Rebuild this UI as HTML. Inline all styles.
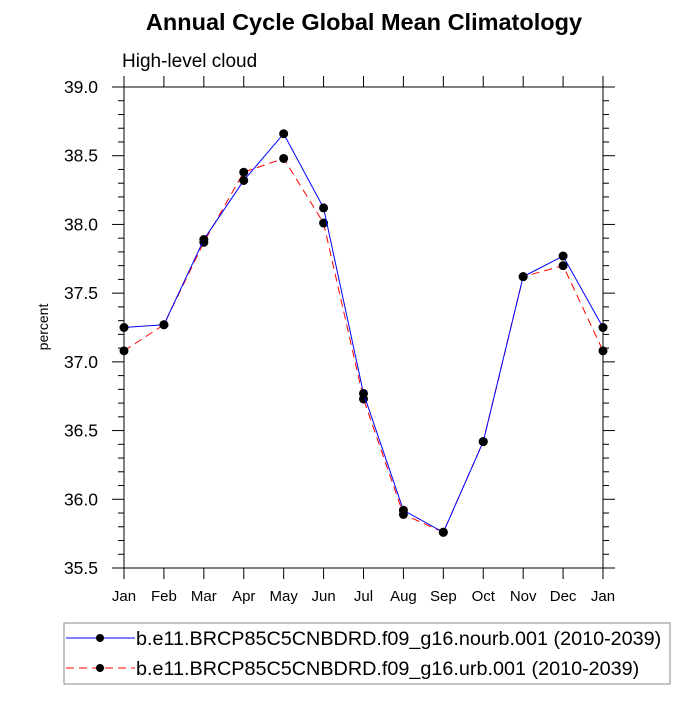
<!DOCTYPE html>
<html><head><meta charset="utf-8"><style>
body{margin:0;background:#fff;font-family:"Liberation Sans",sans-serif}
</style></head><body>
<svg id="chart" width="700" height="700" xmlns="http://www.w3.org/2000/svg">
<text x="364" y="30" text-anchor="middle" font-size="23.5" font-weight="bold" font-family="Liberation Sans">Annual Cycle Global Mean Climatology</text>
<text x="122" y="67" font-size="19" font-family="Liberation Sans">High-level cloud</text>
<text transform="translate(48,327) rotate(-90)" text-anchor="middle" font-size="14" font-family="Liberation Sans">percent</text>
<rect x="124" y="87" width="479" height="481" fill="none" stroke="#000" stroke-width="1"/>
<g id="axes"></g>
<g id="series"></g>
<g>
<rect x="64" y="623" width="606" height="61" fill="none" stroke="#888" stroke-width="1"/>
<g>
<line x1="66" y1="638" x2="135" y2="638" stroke="#00f" stroke-width="1"/>
<circle cx="100" cy="638" r="4" fill="#000"/>
<text x="136" y="645" font-size="19.8" font-family="Liberation Sans">b.e11.BRCP85C5CNBDRD.f09_g16.nourb.001 (2010-2039)</text>
</g>
<g>
<line x1="66" y1="668" x2="135" y2="668" stroke="#f00" stroke-width="1" stroke-dasharray="8,5"/>
<circle cx="100" cy="668" r="4" fill="#000"/>
<text x="136" y="675" font-size="19.8" font-family="Liberation Sans">b.e11.BRCP85C5CNBDRD.f09_g16.urb.001 (2010-2039)</text>
</g>
</g>
</svg>
<script>
const months=["Jan","Feb","Mar","Apr","May","Jun","Jul","Aug","Sep","Oct","Nov","Dec","Jan"];
const nourb=[37.25,37.27,37.89,38.32,38.66,38.12,36.77,35.92,35.76,36.42,37.62,37.77,37.25];
const urb=[37.08,37.27,37.87,38.38,38.48,38.01,36.73,35.89,35.76,36.42,37.62,37.70,37.08];
const yTicks=["35.5","36.0","36.5","37.0","37.5","38.0","38.5","39.0"];
const NS="http://www.w3.org/2000/svg";
const X0=124,X1=603,Y0=568,Y1=87,YMIN=35.5,YMAX=39.0;
const xs=i=>X0+(X1-X0)*i/(months.length-1);
const ys=v=>Y0-(Y0-Y1)*(v-YMIN)/(YMAX-YMIN);
function mk(tag,attrs,parent){const e=document.createElementNS(NS,tag);for(const k in attrs)e.setAttribute(k,attrs[k]);parent.appendChild(e);return e;}
const ax=document.getElementById('axes');
months.forEach((m,i)=>{
  const x=xs(i);
  const t1=mk('line',{x1:x,x2:x,y1:Y0,y2:Y0+11,stroke:'#000'},ax);
  
  
  mk('line',{x1:x,x2:x,y1:Y1,y2:Y1-11,stroke:'#000'},ax);
  const t=mk('text',{x:x,y:Y0+33,'text-anchor':'middle','font-size':15,'font-family':'Liberation Sans'},ax);
  t.textContent=m;
  
  
});
for(let v=YMIN;v<=YMAX+1e-6;v+=0.1){
  const y=ys(v);const major=Math.abs(Math.round(v*2)-v*2)<1e-6;const L=major?12:6;
  mk('line',{x1:X0,x2:X0-L,y1:y,y2:y,stroke:'#000'},ax);
  mk('line',{x1:X1,x2:X1+L,y1:y,y2:y,stroke:'#000'},ax);
}
yTicks.forEach(s=>{
  const v=parseFloat(s);
  const t=mk('text',{x:X0-26,y:ys(v)+6,'text-anchor':'end','font-size':17.5,'font-family':'Liberation Sans'},ax);
  t.textContent=s;
  
  
});
const sg=document.getElementById('series');
function draw(data,color,dash,name){
  const g=mk('g',{},sg);
  
  
  const p=mk('polyline',{points:data.map((v,i)=>xs(i)+','+ys(v)).join(' '),fill:'none',stroke:color,'stroke-width':1},g);
  if(dash)p.setAttribute('stroke-dasharray',dash);
  data.forEach((v,i)=>{
    const c=mk('circle',{cx:xs(i),cy:ys(v),r:4.5,fill:'#000'},g);
    
    
  });
}
draw(urb,'#f00','8,5','series-urb');
draw(nourb,'#00f',null,'series-nourb');
</script>
</body></html>
